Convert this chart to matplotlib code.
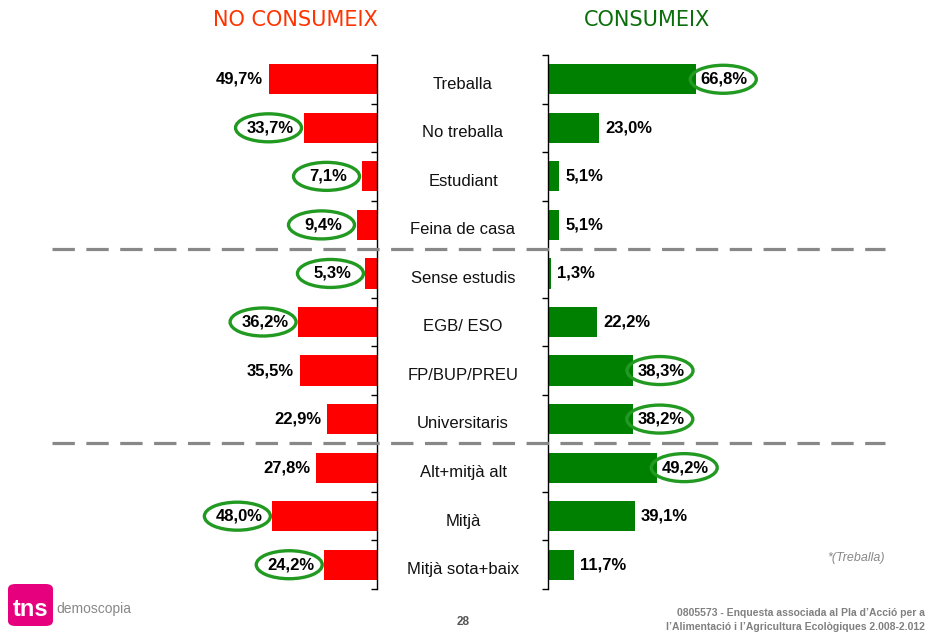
import matplotlib
matplotlib.use("Agg")
import matplotlib.pyplot as plt
import matplotlib.transforms as mtransforms
from matplotlib.lines import Line2D
from matplotlib.patches import FancyBboxPatch, Ellipse

categories = ["Treballa", "No treballa", "Estudiant", "Feina de casa",
              "Sense estudis", "EGB/ ESO", "FP/BUP/PREU", "Universitaris",
              "Alt+mitjà alt", "Mitjà", "Mitjà sota+baix"]
no_consumeix = [49.7, 33.7, 7.1, 9.4, 5.3, 36.2, 35.5, 22.9, 27.8, 48.0, 24.2]
consumeix = [66.8, 23.0, 5.1, 5.1, 1.3, 22.2, 38.3, 38.2, 49.2, 39.1, 11.7]
circled_no = [False, True, True, True, True, True, False, False, False, True, True]
circled_si = [True, False, False, False, False, False, True, True, True, False, False]
separators = [3.5, 7.5]

W, H = 931, 632
fig = plt.figure(figsize=(W / 100, H / 100), dpi=100)

RED = "#FF0000"
GREEN = "#008000"
ELL = "#229A22"
FONT = "Liberation Sans"

top_px, bot_px = 55, 589
yb = 1 - bot_px / H
hh = (bot_px - top_px) / H

l_right = 377
l_scale = 2.18
l_max = 60
axL = fig.add_axes([(l_right - l_max * l_scale) / W, yb, l_max * l_scale / W, hh])
r_left = 548
r_scale = 2.22
r_max = 70
axR = fig.add_axes([r_left / W, yb, r_max * r_scale / W, hh])

n = len(categories)
ypos = list(range(n))
bounds = [i - 0.5 for i in range(n + 1)]

axL.barh(ypos, no_consumeix, height=0.62, color=RED)
axL.set_xlim(l_max, 0)
axL.set_ylim(n - 0.5, -0.5)
axR.barh(ypos, consumeix, height=0.62, color=GREEN)
axR.set_xlim(0, r_max)
axR.set_ylim(n - 0.5, -0.5)

for ax in (axL, axR):
    ax.set_xticks([])
    for s in ax.spines.values():
        s.set_visible(False)
    ax.set_yticks(bounds)
    ax.set_yticklabels([])
    ax.patch.set_alpha(0)

axL.spines["right"].set_visible(True)
axL.yaxis.tick_right()
axL.tick_params(axis="y", direction="in", length=4, width=1, right=True, left=False)
axR.spines["left"].set_visible(True)
axR.tick_params(axis="y", direction="out", length=4, width=1)
for ax in (axL, axR):
    for s in ax.spines.values():
        s.set_linewidth(1)


def ellipse_at(ax, x, y, dx):
    tr = mtransforms.Affine2D().translate(dx, 0) + \
        mtransforms.ScaledTranslation(x, y, ax.transData)
    e = Ellipse((0, 0), 66, 28, transform=tr, fc="none", ec=ELL, lw=2.4,
                clip_on=False, zorder=5)
    fig.add_artist(e)


for i, v in enumerate(no_consumeix):
    lbl = f"{v:.1f}%".replace(".", ",")
    if circled_no[i]:
        axL.annotate(lbl, (v, i), xytext=(-33, 0), textcoords="offset pixels",
                     ha="center", va="center", fontsize=12, fontweight="bold",
                     family=FONT, annotation_clip=False)
        ellipse_at(axL, v, i, -35)
    else:
        axL.annotate(lbl, (v, i), xytext=(-6, 0), textcoords="offset pixels",
                     ha="right", va="center", fontsize=12, fontweight="bold",
                     family=FONT, annotation_clip=False)

for i, v in enumerate(consumeix):
    lbl = f"{v:.1f}%".replace(".", ",")
    if circled_si[i]:
        axR.annotate(lbl, (v, i), xytext=(28, 0), textcoords="offset pixels",
                     ha="center", va="center", fontsize=12, fontweight="bold",
                     family=FONT, annotation_clip=False)
        ellipse_at(axR, v, i, 27)
    else:
        axR.annotate(lbl, (v, i), xytext=(6, 0), textcoords="offset pixels",
                     ha="left", va="center", fontsize=12, fontweight="bold",
                     family=FONT, annotation_clip=False)

trans_c = mtransforms.blended_transform_factory(fig.transFigure, axL.transData)
for i, c in enumerate(categories):
    fig.text(463 / W, i + 0.1, c, transform=trans_c, ha="center", va="center",
             fontsize=12, family=FONT, color="#111111")

for y in separators:
    ln = Line2D([52 / W, 885 / W], [y, y], transform=trans_c, color="#888888",
                lw=2.3, zorder=0.5)
    ln.set_dashes((7, 3.6))
    fig.add_artist(ln)

fig.text(295 / W, 1 - 20 / H, "NO CONSUMEIX", ha="center", va="center",
         fontsize=15, color="#FF3300")
fig.text(647 / W, 1 - 20 / H, "CONSUMEIX", ha="center", va="center",
         fontsize=15, color="#0A6E0A")

fig.text(885 / W, 1 - 558 / H, "*(Treballa)", ha="right", va="center",
         fontsize=9, style="italic", color="#888888", family=FONT)

logo = FancyBboxPatch((8 / W, 1 - 626 / H), 45 / W, 42 / H,
                      boxstyle="round,pad=0,rounding_size=0.008",
                      transform=fig.transFigure, fc="#E6007E", ec="none")
fig.add_artist(logo)
fig.text(31 / W, 1 - 609 / H, "tns", ha="center", va="center", fontsize=17,
         fontweight="bold", color="white", family=FONT)
fig.text(56 / W, 1 - 609 / H, "demoscopia", ha="left", va="center", fontsize=10,
         color="#888888", family=FONT)

fig.text(463 / W, 1 - 622 / H, "28", ha="center", va="center", fontsize=8.5,
         fontweight="bold", color="#555555", family=FONT)
fig.text(925 / W, 1 - 613 / H, "0805573 - Enquesta associada al Pla d’Acció per a",
         ha="right", va="center", fontsize=7.5, fontweight="bold",
         color="#808080", family=FONT)
fig.text(925 / W, 1 - 627 / H, "l’Alimentació i l’Agricultura Ecològiques 2.008-2.012",
         ha="right", va="center", fontsize=7.5, fontweight="bold",
         color="#808080", family=FONT)

fig.savefig("out.png", dpi=100)
